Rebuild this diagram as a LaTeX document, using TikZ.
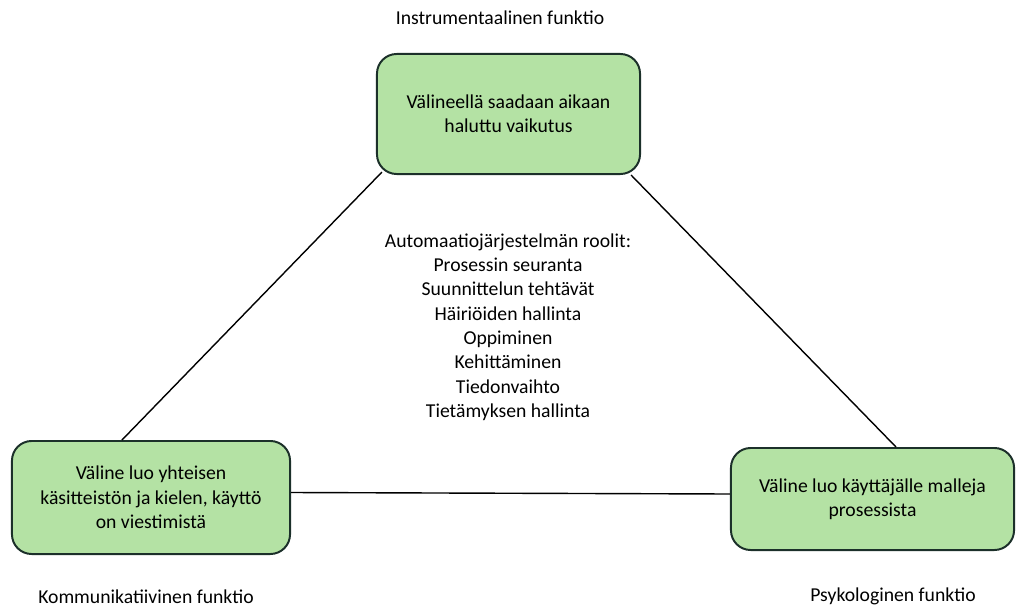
\documentclass[tikz,border=0pt]{standalone}
\usepackage{fontspec}
\setmainfont{Carlito}
\usetikzlibrary{positioning, calc}
\definecolor{boxgreen}{RGB}{180,226,164}
\definecolor{boxedge}{RGB}{28,48,42}

\begin{document}
\begin{tikzpicture}[
    x=0.025cm, y=-0.025cm,
    func/.style={rectangle, rounded corners=14pt, draw=boxedge, line width=1.4pt, fill=boxgreen, align=center, inner sep=2pt, font=\fontsize{14}{17.3}\selectfont},
    lbl/.style={align=center, font=\fontsize{14}{17.3}\selectfont},
    conn/.style={line width=1pt, black}
]
\useasboundingbox (0,0) rectangle (1016,610);

\node[func, minimum width=6.575cm, minimum height=3cm] (instr) at (508.5,114) {Välineellä saadaan aikaan\\haluttu vaikutus};
\node[func, minimum width=6.95cm, minimum height=2.825cm] (komm) at (151,497.5) {Väline luo yhteisen\\käsitteistön ja kielen, käyttö\\on viestimistä};
\node[func, minimum width=7.075cm, minimum height=2.55cm] (psyk) at (872.5,499) {Väline luo käyttäjälle malleja\\prosessista};

\node[lbl] (instrlbl) at (500,18) {Instrumentaalinen funktio};
\node[lbl] (kommlbl) at (146,597) {Kommunikatiivinen funktio};
\node[lbl] (psyklbl) at (893,596) {Psykologinen funktio};
\node[lbl] (roolit) at (508,327) {Automaatiojärjestelmän roolit:\\Prosessin seuranta\\Suunnittelun tehtävät\\Häiriöiden hallinta\\Oppiminen\\Kehittäminen\\Tiedonvaihto\\Tietämyksen hallinta};

\draw[conn] ($(instr.south west)+(6,-3)$) -- ($(komm.north west)+(111,0)$);
\draw[conn] ($(instr.south east)+(-10,0)$) -- ($(psyk.north west)+(166,0)$);
\draw[conn] ($(komm.east)+(0,-5)$) -- ($(psyk.west)+(0,-5)$);
\end{tikzpicture}
\end{document}
